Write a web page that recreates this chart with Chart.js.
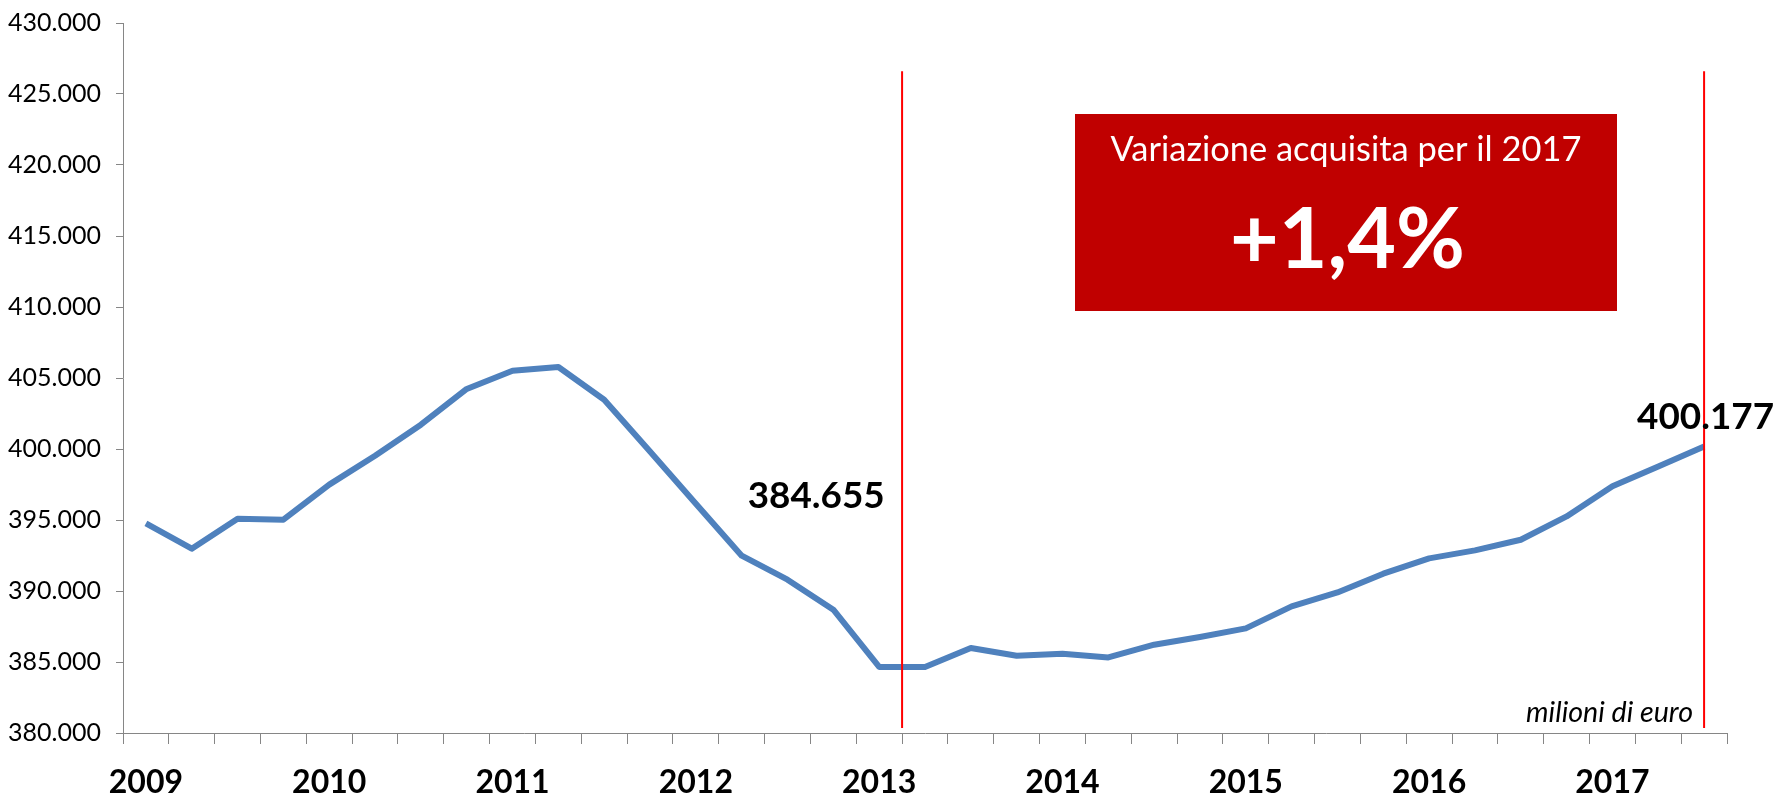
<!DOCTYPE html>
<html>
<head>
<meta charset="utf-8">
<script src="https://cdn.jsdelivr.net/npm/chart.js@4.4.1/dist/chart.umd.min.js"></script>
<style>
  html, body { margin: 0; padding: 0; background: #ffffff; }
  #wrap { width: 1781px; height: 799px; position: relative; }
  canvas { display: block; }
</style>
</head>
<body>
<div id="wrap"><canvas id="c" width="1781" height="799"></canvas></div>
<script>
// ---- DATA ----
const years = ['2009', '2010', '2011', '2012', '2013', '2014', '2015', '2016', '2017'];
const quarters = ['T1', 'T2', 'T3', 'T4'];
// quarterly values, milioni di euro (2009 T1 ... 2017 T3)
const values = [
  394770, 392980, 395090, 395020,
  397490, 399530, 401710, 404230,
  405510, 405770, 403470, 399830,
  396150, 392490, 390800, 388680,
  384655, 384655, 385990, 385440,
  385580, 385320, 386220, 386760,
  387370, 388920, 389900, 391220,
  392300, 392860, 393610, 395250,
  397370, 398770, 400177
];
const yMin = 380000;
const yMax = 430000;
const yStep = 5000;
// highlighted points (index into values) and their labels
const labelledPoints = [16, 34];
// vertical reference lines (category positions) and their vertical extent
const markerPositions = [16.5, 34];
const markerExtent = [380350, 426600];
// annotation box texts
const boxTitle = 'Variazione acquisita per il 2017';
const boxValue = '+1,4%';
const unitNote = 'milioni di euro';

const categories = [];
years.forEach(y => quarters.forEach(q => categories.push(y + ' ' + q)));
categories.length = values.length;

function fmt(v) {
  return String(Math.round(v)).replace(/\B(?=(\d{3})+(?!\d))/g, '.');
}

function fitSize(ctx, text, style, family, target) {
  ctx.font = style + ' 100px ' + family;
  const w = ctx.measureText(text).width;
  return 100 * target / w;
}

const annotations = {
  id: 'annotations',
  afterDatasetsDraw(chart) {
    const ctx = chart.ctx;
    const xs = chart.scales.x, ys = chart.scales.y;
    ctx.save();
    // red vertical lines
    ctx.strokeStyle = '#FF0000';
    ctx.lineWidth = 2;
    markerPositions.forEach(p => {
      const x = xs.getPixelForValue(p);
      ctx.beginPath();
      ctx.moveTo(x, ys.getPixelForValue(markerExtent[1]));
      ctx.lineTo(x, ys.getPixelForValue(markerExtent[0]));
      ctx.stroke();
    });

    // red box
    const bx0 = 1075, bx1 = 1617, by0 = 114, by1 = 311;
    ctx.fillStyle = '#C00000';
    ctx.fillRect(bx0, by0, bx1 - bx0, by1 - by0);
    ctx.fillStyle = '#FFFFFF';
    ctx.textAlign = 'center';
    ctx.textBaseline = 'alphabetic';
    const cx = (bx0 + bx1) / 2;
    let s = fitSize(ctx, boxTitle, 'normal', 'Lato', 471);
    ctx.font = 'normal ' + s + 'px Lato';
    ctx.fillText(boxTitle, cx, 161);
    s = fitSize(ctx, boxValue, 'bold', 'Lato', 235);
    ctx.font = 'bold ' + s + 'px Lato';
    ctx.fillText(boxValue, 1347.5, 268);

    // point labels
    ctx.fillStyle = '#000000';
    const meta = chart.getDatasetMeta(0);
    const p0 = meta.data[labelledPoints[0]];
    const p1 = meta.data[labelledPoints[1]];
    s = fitSize(ctx, fmt(values[labelledPoints[0]]), 'bold', 'Lato', 137);
    ctx.font = 'bold ' + s + 'px Lato';
    ctx.textAlign = 'right';
    ctx.fillText(fmt(values[labelledPoints[0]]), p0.x + 5.5, p0.y - 159);
    ctx.textAlign = 'center';
    ctx.fillText(fmt(values[labelledPoints[1]]), p1.x + 1.5, p1.y - 17);

    // unit note
    s = fitSize(ctx, unitNote, 'italic', 'Lato', 167);
    ctx.font = 'italic ' + s + 'px Lato';
    ctx.textAlign = 'right';
    ctx.fillText(unitNote, 1693, 722);
    ctx.restore();
  }
};

function build() {
  new Chart(document.getElementById('c'), {
    type: 'line',
    data: {
      labels: categories,
      datasets: [{
        data: values,
        borderColor: '#4F81BD',
        backgroundColor: '#4F81BD',
        borderWidth: 6,
        pointRadius: 0,
        pointHoverRadius: 0,
        tension: 0,
        fill: false,
        borderJoinStyle: 'round',
        borderCapStyle: 'butt'
      }]
    },
    options: {
      responsive: false,
      animation: false,
      devicePixelRatio: 1,
      layout: { padding: { left: 0, top: 23, right: 54, bottom: 0 } },
      plugins: { legend: { display: false }, tooltip: { enabled: false } },
      scales: {
        x: {
          type: 'category',
          offset: true,
          afterFit: sc => { sc.height = 66; sc.paddingLeft = 0; sc.paddingRight = 0; },
          border: { color: '#868686', width: 1 },
          grid: { offset: true, drawOnChartArea: false, drawTicks: true, tickLength: 11, color: '#868686', tickWidth: 1 },
          ticks: {
            autoSkip: false, maxRotation: 0, minRotation: 0, padding: 19,
            color: '#000000',
            font: { family: 'Lato', weight: 'bold', size: 32 },
            callback: (v, i) => (i % 4 === 0 ? years[i / 4] : '')
          }
        },
        y: {
          min: yMin, max: yMax,
          afterFit: sc => { sc.width = 123; sc.paddingTop = 0; sc.paddingBottom = 0; },
          border: { color: '#868686', width: 1 },
          grid: { drawOnChartArea: false, drawTicks: true, tickLength: 7, color: '#868686' },
          ticks: {
            stepSize: yStep, padding: 15, color: '#000000',
            font: { family: 'Lato', size: 25 },
            callback: v => fmt(v)
          }
        }
      }
    },
    plugins: [annotations]
  });
}

const fontLoads = ['normal 25px Lato', 'bold 32px Lato', 'italic 20px Lato'].map(f => document.fonts.load(f));
Promise.all(fontLoads).then(build, build);
</script>
</body>
</html>
